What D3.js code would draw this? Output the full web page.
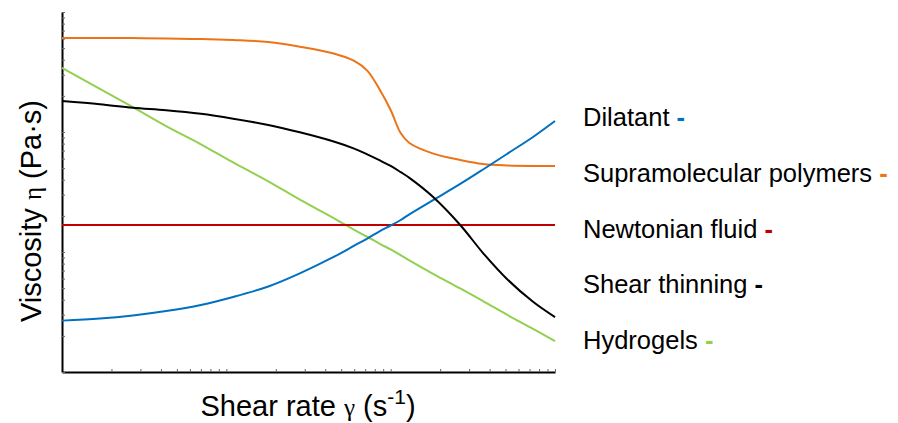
<!DOCTYPE html>
<html>
<head>
<meta charset="utf-8">
<script src="https://cdn.jsdelivr.net/npm/d3@7"></script>
<style>
  html, body { margin: 0; padding: 0; background: #fff; }
  svg { display: block; font-family: "Liberation Sans", Arial, sans-serif; }
</style>
</head>
<body>
<svg id="chart" width="898" height="423"></svg>
<script>
// ---- data (shear rate in s^-1, viscosity in Pa·s) ----
const shearRate     = [1, 1.7, 2.7, 4.3, 7, 11, 18, 28, 45, 60, 72, 86, 100, 115, 130, 180, 265, 365, 510, 735, 1000];
const dilatant      = [2.68, 2.79, 2.96, 3.22, 3.62, 4.22, 5.16, 6.64, 9.09, 11.28, 12.95, 14.96, 16.63, 18.48, 20.6, 26.9, 36.9, 48.7, 65.6, 90.9, 123.5];
const supramolecular= [607, 607, 607, 601, 596, 584, 562, 514, 451, 391, 325, 224, 152.6, 98, 81, 66.4, 58.5, 54.1, 52.6, 52.1, 52.1];
const newtonian     = [16.8, 16.8, 16.8, 16.8, 16.8, 16.8, 16.8, 16.8, 16.8, 16.8, 16.8, 16.8, 16.8, 16.8, 16.8, 16.8, 16.8, 16.8, 16.8, 16.8, 16.8];
const shearThinning = [181, 170.2, 159.1, 151.9, 141.8, 129.1, 114.4, 99.4, 83.3, 72.7, 65.1, 57.9, 52.1, 46.3, 41.5, 29.0, 16.8, 9.8, 5.96, 3.85, 2.87];
const hydrogels     = [343, 229, 161, 112, 79, 55.7, 38.8, 27.3, 19.2, 15.3, 13.4, 11.7, 10.5, 9.4, 8.5, 6.6, 4.97, 3.9, 3.0, 2.29, 1.81];
const seriesNames   = ["Dilatant", "Supramolecular polymers", "Newtonian fluid", "Shear thinning", "Hydrogels"];
const seriesColors  = ["#0070C0", "#EB7418", "#C00000", "#000000", "#92D050"];
const xDomain = [1, 1000];
const yDomain = [1, 1000];

const seriesValues = [dilatant, supramolecular, newtonian, shearThinning, hydrogels];

const svg = d3.select("#chart");
const mLeft = 62, mRight = 555, mTop = 12, mBottom = 372;

const x = d3.scaleLog().domain(xDomain).range([mLeft, mRight]);
const y = d3.scaleLog().domain(yDomain).range([mBottom, mTop]);

// axes with inward minor (log) ticks, no labels
const xAxis = svg.append("g")
  .attr("transform", `translate(0,${mBottom})`)
  .call(d3.axisBottom(x).tickValues(x.ticks()).tickSize(-3).tickSizeOuter(0).tickFormat(""));
xAxis.select(".domain").attr("stroke", "#000").attr("stroke-width", 2);
xAxis.selectAll(".tick line").attr("stroke", "#666").attr("stroke-width", 1);

const yAxis = svg.append("g")
  .attr("transform", `translate(${mLeft},0)`)
  .call(d3.axisLeft(y).tickValues(y.ticks()).tickSize(-3).tickSizeOuter(0).tickFormat(""));
yAxis.select(".domain").attr("stroke", "#000").attr("stroke-width", 2);
yAxis.selectAll(".tick line").attr("stroke", "#666").attr("stroke-width", 1);

// lines
const line = d3.line()
  .x(d => x(d[0]))
  .y(d => y(d[1]))
  .curve(d3.curveCatmullRom.alpha(0.5));

const order = [4, 2, 1, 0, 3]; // draw order
order.forEach(i => {
  const pts = shearRate.map((s, k) => [s, seriesValues[i][k]]);
  svg.append("path")
    .datum(pts)
    .attr("d", line)
    .attr("fill", "none")
    .attr("stroke", seriesColors[i])
    .attr("stroke-width", 2)
    .attr("stroke-linejoin", "round");
});

// legend
const legend = svg.append("g");
seriesNames.forEach((name, i) => {
  const t = legend.append("text")
    .attr("x", 583)
    .attr("y", 126 + i * 55.8)
    .attr("font-size", 25.5)
    .attr("fill", "#000");
  t.append("tspan").text(name + " ");
  t.append("tspan").text("-").attr("fill", seriesColors[i]).attr("font-weight", "bold");
});

// axis titles
const xt = svg.append("text")
  .attr("x", 308)
  .attr("y", 416)
  .attr("text-anchor", "middle")
  .attr("font-size", 29)
  .attr("fill", "#000");
xt.append("tspan").text("Shear rate ");
xt.append("tspan").text("γ").attr("font-family", "'Liberation Serif', serif").attr("font-size", 25);
xt.append("tspan").text(" (s");
xt.append("tspan").text("-1").attr("font-size", 21).attr("dy", -12);
xt.append("tspan").text(")").attr("dy", 12);

const yt = svg.append("text")
  .attr("transform", `translate(41,211) rotate(-90)`)
  .attr("text-anchor", "middle")
  .attr("font-size", 29)
  .attr("fill", "#000");
yt.append("tspan").text("Viscosity ");
yt.append("tspan").text("η").attr("font-family", "'Liberation Serif', serif").attr("font-size", 25);
yt.append("tspan").text(" (Pa·s)");
</script>
</body>
</html>
